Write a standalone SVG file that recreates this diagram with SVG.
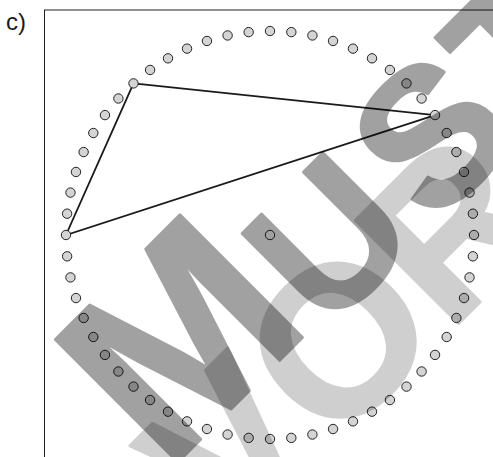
<svg xmlns="http://www.w3.org/2000/svg" width="493" height="457" viewBox="0 0 493 457">
<style>
.lbl{font-family:"Liberation Sans",Arial,sans-serif;font-size:24px;fill:#1a1a1a}
.frame{fill:none;stroke:#222;stroke-width:1}
.edge{fill:none;stroke:#1a1a1a;stroke-width:1.8;stroke-linejoin:miter}
.dot{fill:#d4d4d4;stroke:#222;stroke-width:1}
.wm{font-family:"Liberation Sans",Arial,sans-serif;font-weight:bold;fill:#000;stroke:#000;stroke-width:3;stroke-linejoin:round}
</style>
<rect width="493" height="457" fill="#fff"/>
<text class="lbl" x="6" y="30">c)</text>
<rect class="frame" x="44.5" y="10" width="520" height="520"/>
<g id="connectors">
<polyline class="edge" points="133.5,83.4 435.04,115.09 66,235 133.5,83.4"/>
</g>
<g id="dots">
<circle class="dot" cx="474" cy="235" r="4.7"/>
<circle class="dot" cx="472.88" cy="256.32" r="4.7"/>
<circle class="dot" cx="469.54" cy="277.41" r="4.7"/>
<circle class="dot" cx="464.02" cy="298.04" r="4.7"/>
<circle class="dot" cx="456.36" cy="317.97" r="4.7"/>
<circle class="dot" cx="446.67" cy="337" r="4.7"/>
<circle class="dot" cx="435.04" cy="354.91" r="4.7"/>
<circle class="dot" cx="421.6" cy="371.5" r="4.7"/>
<circle class="dot" cx="406.5" cy="386.6" r="4.7"/>
<circle class="dot" cx="389.91" cy="400.04" r="4.7"/>
<circle class="dot" cx="372" cy="411.67" r="4.7"/>
<circle class="dot" cx="352.97" cy="421.36" r="4.7"/>
<circle class="dot" cx="333.04" cy="429.02" r="4.7"/>
<circle class="dot" cx="312.41" cy="434.54" r="4.7"/>
<circle class="dot" cx="291.32" cy="437.88" r="4.7"/>
<circle class="dot" cx="270" cy="439" r="4.7"/>
<circle class="dot" cx="248.68" cy="437.88" r="4.7"/>
<circle class="dot" cx="227.59" cy="434.54" r="4.7"/>
<circle class="dot" cx="206.96" cy="429.02" r="4.7"/>
<circle class="dot" cx="187.03" cy="421.36" r="4.7"/>
<circle class="dot" cx="168" cy="411.67" r="4.7"/>
<circle class="dot" cx="150.09" cy="400.04" r="4.7"/>
<circle class="dot" cx="133.5" cy="386.6" r="4.7"/>
<circle class="dot" cx="118.4" cy="371.5" r="4.7"/>
<circle class="dot" cx="104.96" cy="354.91" r="4.7"/>
<circle class="dot" cx="93.33" cy="337" r="4.7"/>
<circle class="dot" cx="83.64" cy="317.97" r="4.7"/>
<circle class="dot" cx="75.98" cy="298.04" r="4.7"/>
<circle class="dot" cx="70.46" cy="277.41" r="4.7"/>
<circle class="dot" cx="67.12" cy="256.32" r="4.7"/>
<circle class="dot" cx="66" cy="235" r="4.7"/>
<circle class="dot" cx="67.12" cy="213.68" r="4.7"/>
<circle class="dot" cx="70.46" cy="192.59" r="4.7"/>
<circle class="dot" cx="75.98" cy="171.96" r="4.7"/>
<circle class="dot" cx="83.64" cy="152.03" r="4.7"/>
<circle class="dot" cx="93.33" cy="133" r="4.7"/>
<circle class="dot" cx="104.96" cy="115.09" r="4.7"/>
<circle class="dot" cx="118.4" cy="98.5" r="4.7"/>
<circle class="dot" cx="133.5" cy="83.4" r="4.7"/>
<circle class="dot" cx="150.09" cy="69.96" r="4.7"/>
<circle class="dot" cx="168" cy="58.33" r="4.7"/>
<circle class="dot" cx="187.03" cy="48.64" r="4.7"/>
<circle class="dot" cx="206.96" cy="40.98" r="4.7"/>
<circle class="dot" cx="227.59" cy="35.46" r="4.7"/>
<circle class="dot" cx="248.68" cy="32.12" r="4.7"/>
<circle class="dot" cx="270" cy="31" r="4.7"/>
<circle class="dot" cx="291.32" cy="32.12" r="4.7"/>
<circle class="dot" cx="312.41" cy="35.46" r="4.7"/>
<circle class="dot" cx="333.04" cy="40.98" r="4.7"/>
<circle class="dot" cx="352.97" cy="48.64" r="4.7"/>
<circle class="dot" cx="372" cy="58.33" r="4.7"/>
<circle class="dot" cx="389.91" cy="69.96" r="4.7"/>
<circle class="dot" cx="406.5" cy="83.4" r="4.7"/>
<circle class="dot" cx="421.6" cy="98.5" r="4.7"/>
<circle class="dot" cx="435.04" cy="115.09" r="4.7"/>
<circle class="dot" cx="446.67" cy="133" r="4.7"/>
<circle class="dot" cx="456.36" cy="152.03" r="4.7"/>
<circle class="dot" cx="464.02" cy="171.96" r="4.7"/>
<circle class="dot" cx="469.54" cy="192.59" r="4.7"/>
<circle class="dot" cx="472.88" cy="213.68" r="4.7"/>
</g>
<g id="center">
<circle class="dot" cx="270" cy="235" r="4.7" style="fill:#fff"/>
</g>
<g id="watermark-light" opacity="0.185">
<text class="wm" x="232" y="550" font-size="212" transform="rotate(-45 232 550)">VOR</text>
</g>
<g id="watermark-dark" opacity="0.37">
<text class="wm" x="166" y="474" font-size="252" transform="rotate(-45 166 474)">M</text>
<text class="wm" x="326.4" y="334" font-size="190" transform="rotate(-45 326.4 334)">U</text>
<text class="wm" x="432.7" y="227.7" font-size="194" transform="rotate(-45 432.7 227.7)">S</text>
<text class="wm" x="526" y="131.5" font-size="190" transform="rotate(-45 526 131.5)">T</text>
</g>
</svg>
